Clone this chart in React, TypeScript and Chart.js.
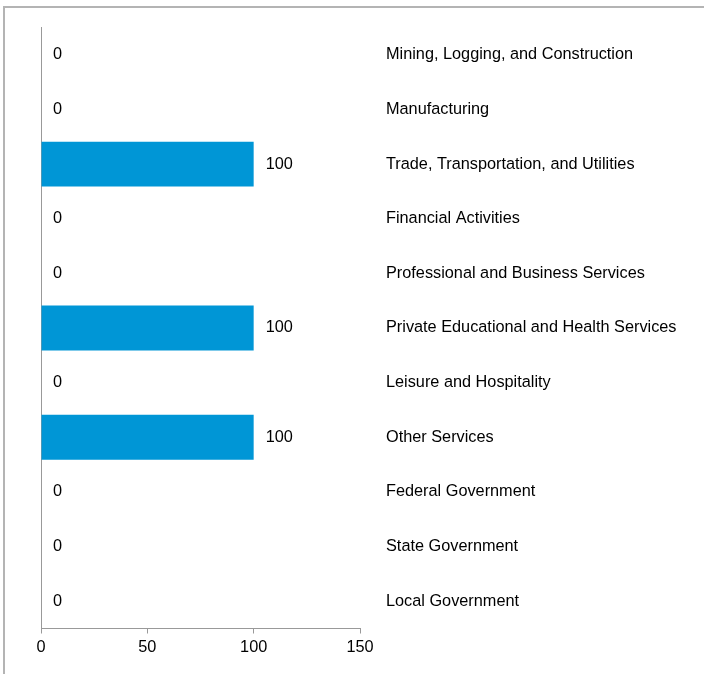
import React, { useEffect, useRef } from "react";
import { Chart, registerables } from "chart.js";

Chart.register(...registerables);

const categories = [
  "Mining, Logging, and Construction",
  "Manufacturing",
  "Trade, Transportation, and Utilities",
  "Financial Activities",
  "Professional and Business Services",
  "Private Educational and Health Services",
  "Leisure and Hospitality",
  "Other Services",
  "Federal Government",
  "State Government",
  "Local Government",
];
const values = [0, 0, 100, 0, 0, 100, 0, 100, 0, 0, 0];
const xTicks = [0, 50, 100, 150];

const FONT = "'Liberation Sans', Arial, sans-serif";
const FS = 16.3;

const valueLabels = {
  id: "valueLabels",
  afterDatasetsDraw(chart: any) {
    const ctx = chart.ctx;
    const meta = chart.getDatasetMeta(0);
    ctx.save();
    ctx.font = `${FS}px ${FONT}`;
    ctx.fillStyle = "#000";
    ctx.textAlign = "left";
    ctx.textBaseline = "middle";
    meta.data.forEach((bar: any, i: number) => {
      const v = chart.data.datasets[0].data[i];
      ctx.fillText(String(v), bar.x + 12, bar.y);
    });
    ctx.restore();
  },
};

export default function App() {
  const ref = useRef<HTMLCanvasElement>(null);
  useEffect(() => {
    if (!ref.current) return;
    const chart = new Chart(ref.current, {
      type: "bar",
      data: {
        labels: categories,
        datasets: [
          {
            data: values,
            backgroundColor: "#0096D6",
            categoryPercentage: 1,
            barPercentage: 0.82,
            yAxisID: "y",
          },
        ],
      },
      options: {
        indexAxis: "y",
        animation: false,
        responsive: false,
        devicePixelRatio: 1,
        layout: { padding: { left: 41, top: 27.5, right: 0, bottom: 0 } },
        plugins: { legend: { display: false }, tooltip: { enabled: false } },
        scales: {
          x: {
            type: "linear",
            min: 0,
            max: 150,
            afterBuildTicks: (scale: any) => {
              scale.ticks = xTicks.map((v) => ({ value: v }));
            },
            afterFit: (scale: any) => {
              scale.height = 45.5;
              scale.paddingLeft = 0;
              scale.paddingRight = 0;
            },
            grid: {
              display: true,
              drawOnChartArea: false,
              drawTicks: true,
              tickLength: 5,
              color: "#999",
            },
            border: { display: true, color: "#999", width: 1 },
            ticks: {
              padding: 4,
              color: "#000",
              font: { family: FONT, size: FS },
              maxRotation: 0,
            },
          },
          y: {
            type: "category",
            position: "left",
            afterFit: (scale: any) => {
              scale.width = 0;
              scale.paddingTop = 0;
              scale.paddingBottom = 0;
            },
            grid: { display: false, drawTicks: false },
            border: { display: true, color: "#999", width: 1 },
            ticks: { display: false },
          },
          y2: {
            type: "category",
            position: "right",
            offset: true,
            afterFit: (scale: any) => {
              scale.width = 344;
              scale.paddingTop = 0;
              scale.paddingBottom = 0;
            },
            grid: { display: false, drawTicks: false },
            border: { display: false },
            ticks: {
              autoSkip: false,
              padding: 26,
              crossAlign: "near",
              color: "#000",
              font: { family: FONT, size: FS },
            },
          },
        },
      },
      plugins: [valueLabels],
    });
    return () => chart.destroy();
  }, []);

  return (
    <div
      style={{
        position: "fixed",
        left: 0,
        top: 0,
        width: 704,
        height: 674,
        overflow: "hidden",
        background: "#fff",
      }}
    >
      <div
        style={{
          position: "absolute",
          left: 3,
          top: 6,
          width: 760,
          height: 760,
          border: "2px solid #b4b4b4",
          boxSizing: "border-box",
        }}
      />
      <canvas
        ref={ref}
        width={704}
        height={674}
        style={{ position: "absolute", left: 0, top: 0 }}
      />
    </div>
  );
}
